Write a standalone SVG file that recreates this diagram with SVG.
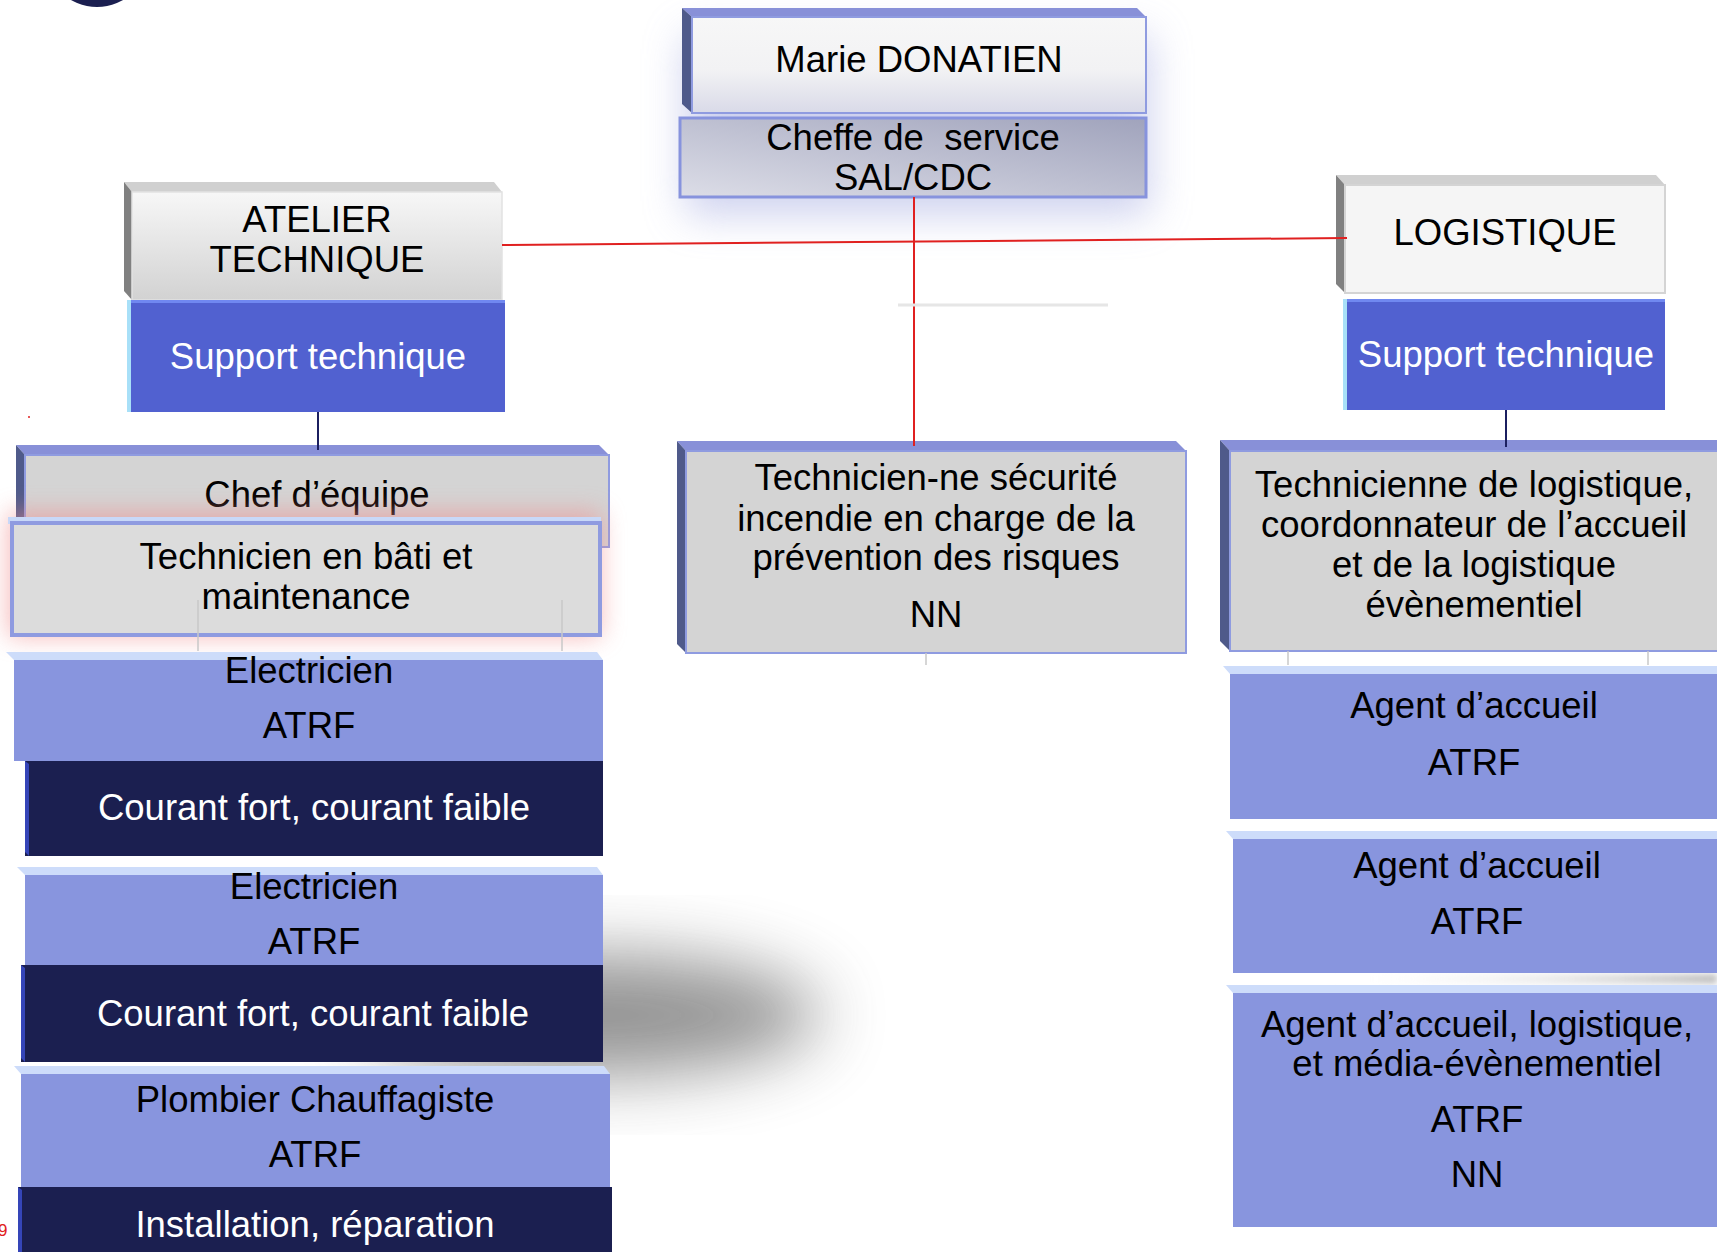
<svg xmlns="http://www.w3.org/2000/svg" width="1717" height="1252" viewBox="0 0 1717 1252">
<defs>
<style>
text{font-family:"Liberation Sans",Arial,sans-serif;font-size:36.5px;text-anchor:middle;fill:#000}
.w{fill:#fff}
.bvB{fill:#8890d8}
.bvD{fill:#4f5a8a}
.bvL{fill:#cddcfa}
.bvG{fill:#d0d0d0}
.bvK{fill:#808080}
.face{fill:#d4d4d4;stroke:#8f9be0;stroke-width:2}
.peri{fill:#8895de}
.navy{fill:#1b1f50}
.navyEdge{fill:#3545b8}
.sup{fill:#5161d0}
.red{stroke:#e02020;stroke-width:2;fill:none}
.nav{stroke:#1b1f60;stroke-width:2;fill:none}
.gry{stroke:#c8c8c8;stroke-width:1.5;fill:none}
</style>
<linearGradient id="gMarie" x1="0" y1="0" x2="0" y2="1">
<stop offset="0" stop-color="#f7f7f7"/><stop offset="0.55" stop-color="#f2f2f4"/><stop offset="1" stop-color="#d9dae8"/>
</linearGradient>
<linearGradient id="gCheffe" x1="1" y1="0" x2="0" y2="1">
<stop offset="0" stop-color="#a0a3bc"/><stop offset="1" stop-color="#dcdde7"/>
</linearGradient>
<linearGradient id="gAtelier" x1="0" y1="0" x2="0" y2="1">
<stop offset="0" stop-color="#f7f7f7"/><stop offset="1" stop-color="#d2d2d2"/>
</linearGradient>
<linearGradient id="gBand" x1="0" y1="0" x2="1" y2="0">
<stop offset="0" stop-color="#ffffff" stop-opacity="0"/><stop offset="1" stop-color="#c0c0c0"/>
</linearGradient>
<filter id="blur18" x="-50%" y="-50%" width="200%" height="200%"><feGaussianBlur stdDeviation="20"/></filter>
<filter id="blur12" x="-50%" y="-50%" width="200%" height="200%"><feGaussianBlur stdDeviation="12"/></filter>
<filter id="blur28" x="-50%" y="-50%" width="200%" height="200%"><feGaussianBlur stdDeviation="34"/></filter>
<filter id="blur2" x="-20%" y="-50%" width="140%" height="200%"><feGaussianBlur stdDeviation="3"/></filter>
</defs>
<rect width="1717" height="1252" fill="#fff"/>

<!-- decorative -->
<circle cx="97" cy="-45" r="52" fill="#1b1f50"/>
<circle cx="29" cy="417" r="1" fill="#e02020"/>
<text x="-2" y="1236" style="font-size:17px;fill:#e02020;text-anchor:start">9</text>

<!-- shadows / glows -->
<rect x="685" y="35" width="465" height="180" fill="#b4b9e6" opacity="0.65" filter="url(#blur18)"/>
<ellipse cx="590" cy="1015" rx="230" ry="60" fill="#5a5a5a" opacity="0.65" filter="url(#blur28)"/>
<rect x="1330" y="974" width="387" height="10" fill="url(#gBand)" filter="url(#blur2)"/>

<g id="marie">
<polygon class="bvB" points="682,8 1137,8 1146,17 692,17"/>
<polygon class="bvD" points="682,8 692,17 692,113 682,104"/>
<rect x="692" y="17" width="454" height="96" fill="url(#gMarie)" stroke="#8f9be0" stroke-width="2"/>
<text x="919" y="72">Marie DONATIEN</text>
</g>

<g id="cheffe">
<rect x="680" y="118" width="466" height="79" fill="url(#gCheffe)" stroke="#8793dd" stroke-width="3"/>
<text x="913" y="150" xml:space="preserve">Cheffe de  service</text>
<text x="913" y="190">SAL/CDC</text>
</g>

<g id="atelier">
<polygon class="bvG" points="124,182 494,182 502,192 132,192"/>
<polygon class="bvK" points="124,182 132,192 132,300 124,291"/>
<rect x="132" y="192" width="370" height="108" fill="url(#gAtelier)" stroke="#e2e2e2" stroke-width="1.5"/>
<text x="317" y="232">ATELIER</text>
<text x="317" y="272">TECHNIQUE</text>
</g>

<g id="support-left">
<rect class="sup" x="127" y="300" width="378" height="112"/>
<rect x="127" y="300" width="378" height="3" fill="#7088f0"/>
<rect x="127" y="300" width="4" height="112" fill="#a8e0f8"/>
<text class="w" x="318" y="369">Support technique</text>
</g>

<g id="logistique">
<polygon class="bvG" points="1336,175 1656,175 1665,185 1345,185"/>
<polygon class="bvK" points="1336,175 1345,185 1345,293 1336,284"/>
<rect x="1345" y="185" width="320" height="108" fill="#f5f5f5" stroke="#d4d4d4" stroke-width="2"/>
<text x="1505" y="245">LOGISTIQUE</text>
</g>

<g id="support-right">
<rect class="sup" x="1343" y="299" width="322" height="111"/>
<rect x="1343" y="299" width="322" height="3" fill="#7088f0"/>
<rect x="1343" y="299" width="4" height="111" fill="#a8e0f8"/>
<text class="w" x="1506" y="367">Support technique</text>
</g>

<g id="chef-equipe">
<polygon class="bvB" points="16,445 599,445 609,455 25,455"/>
<polygon class="bvD" points="16,445 25,455 25,547 16,538"/>
<rect class="face" x="25" y="455" width="584" height="92"/>
<text x="317" y="507">Chef d’équipe</text>
</g>

<rect x="8" y="512" width="593" height="125" fill="#f08c8c" opacity="0.6" filter="url(#blur12)"/>

<g id="technicien-bati">
<rect x="8" y="517" width="593" height="7" fill="#c8d8f8"/>
<rect x="12" y="523" width="588" height="112" fill="#dcdcdc" stroke="#8f9be0" stroke-width="4"/>
<text x="306" y="569">Technicien en bâti et</text>
<text x="306" y="609">maintenance</text>
</g>

<g id="electricien-1">
<polygon class="bvL" points="6,652 597,652 603,660 14,660"/>
<rect class="peri" x="14" y="660" width="589" height="101"/>
<text x="309" y="683">Electricien</text>
<text x="309" y="738">ATRF</text>
</g>

<g id="courant-1">
<rect class="navy" x="25" y="761" width="578" height="95"/>
<polygon class="navyEdge" points="25,761 29,764 29,856 25,852"/>
<text class="w" x="314" y="820">Courant fort, courant faible</text>
</g>

<g id="electricien-2">
<polygon class="bvL" points="17,867 597,867 603,875 25,875"/>
<rect class="peri" x="25" y="875" width="578" height="90"/>
<text x="314" y="899">Electricien</text>
<text x="314" y="954">ATRF</text>
</g>

<g id="courant-2">
<rect class="navy" x="21" y="965" width="582" height="97"/>
<polygon class="navyEdge" points="21,965 25,968 25,1062 21,1058"/>
<text class="w" x="313" y="1026">Courant fort, courant faible</text>
</g>

<g id="plombier">
<polygon class="bvL" points="14,1066 604,1066 610,1074 21,1074"/>
<rect class="peri" x="21" y="1074" width="589" height="113"/>
<text x="315" y="1112">Plombier Chauffagiste</text>
<text x="315" y="1167">ATRF</text>
</g>

<g id="installation">
<rect class="navy" x="18" y="1187" width="594" height="70"/>
<polygon class="navyEdge" points="18,1187 22,1190 22,1257 18,1257"/>
<text class="w" x="315" y="1237">Installation, réparation</text>
</g>

<g id="technicien-securite">
<polygon class="bvB" points="677,441 1176,441 1186,451 686,451"/>
<polygon class="bvD" points="677,441 686,451 686,653 677,644"/>
<rect class="face" x="686" y="451" width="500" height="202"/>
<text x="936" y="490">Technicien-ne sécurité</text>
<text x="936" y="531">incendie en charge de la</text>
<text x="936" y="570">prévention des risques</text>
<text x="936" y="627">NN</text>
</g>

<g id="technicienne-logistique">
<polygon class="bvB" points="1220,440 1717,440 1717,451 1230,451"/>
<polygon class="bvD" points="1220,440 1230,451 1230,651 1220,641"/>
<rect class="face" x="1230" y="451" width="490" height="200"/>
<text x="1474" y="497">Technicienne de logistique,</text>
<text x="1474" y="537">coordonnateur de l’accueil</text>
<text x="1474" y="577">et de la logistique</text>
<text x="1474" y="617">évènementiel</text>
</g>

<g id="agent-1">
<polygon class="bvL" points="1223,666 1717,666 1717,674 1230,674"/>
<rect class="peri" x="1230" y="674" width="487" height="145"/>
<text x="1474" y="718">Agent d’accueil</text>
<text x="1474" y="775">ATRF</text>
</g>

<g id="agent-2">
<polygon class="bvL" points="1226,831 1717,831 1717,839 1233,839"/>
<rect class="peri" x="1233" y="839" width="484" height="134"/>
<text x="1477" y="878">Agent d’accueil</text>
<text x="1477" y="934">ATRF</text>
</g>

<g id="agent-3">
<polygon class="bvL" points="1226,985 1717,985 1717,993 1233,993"/>
<rect class="peri" x="1233" y="993" width="484" height="234"/>
<text x="1477" y="1037">Agent d’accueil, logistique,</text>
<text x="1477" y="1076">et média-évènementiel</text>
<text x="1477" y="1132">ATRF</text>
<text x="1477" y="1187">NN</text>
</g>

<g id="connectors">
<line class="red" x1="502" y1="245" x2="1347" y2="238"/>
<line class="red" x1="914" y1="197" x2="914" y2="446"/>
<line class="nav" x1="318" y1="412" x2="318" y2="450"/>
<line class="nav" x1="1506" y1="410" x2="1506" y2="447"/>
<line class="gry" x1="198" y1="600" x2="198" y2="651"/>
<line class="gry" x1="562" y1="600" x2="562" y2="651"/>
<line class="gry" x1="926" y1="653" x2="926" y2="665"/>
<line class="gry" x1="1288" y1="651" x2="1288" y2="665"/>
<line class="gry" x1="1648" y1="651" x2="1648" y2="665"/>
<line x1="898" y1="305" x2="1108" y2="305" stroke="#e6e6e6" stroke-width="3"/>
</g>
</svg>
